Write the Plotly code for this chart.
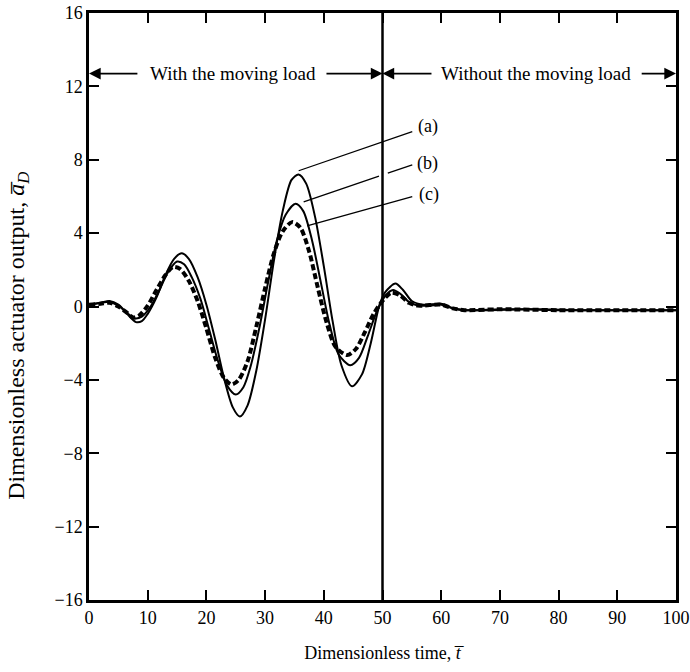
import plotly.graph_objects as go

# ---- data ----
t_a = [0, 2, 3.5, 5, 6.5, 8, 9, 10, 11.5, 13, 14.5, 15.8, 17, 18.5, 20, 21.5, 23, 24.5, 25.7, 27,
       28.5, 30, 31.5, 33, 34.5, 35.7, 37, 38.5, 40, 41.5, 43, 44.8, 46.5, 48, 49.5, 50.5, 52.2,
       53.5, 55, 57, 60, 62, 64, 66, 70, 75, 80, 90, 100]
y_a = [0.1, 0.2, 0.3, 0.1, -0.4, -0.85, -0.8, -0.4, 0.5, 1.7, 2.6, 2.9, 2.6, 1.6, 0.1, -1.8, -3.9, -5.5, -6.0, -5.4,
       -3.5, -0.7, 2.5, 5.2, 6.9, 7.2, 6.7, 4.9, 2.2, -0.8, -3.2, -4.35, -3.7, -2.0, 0.1, 0.8, 1.25,
       0.9, 0.3, 0.1, 0.15, -0.1, -0.2, -0.2, -0.15, -0.15, -0.2, -0.2, -0.2]

t_b = [0, 2, 3.5, 5, 6.5, 7.8, 9, 10.5, 12, 13.5, 15, 16.2, 17.5, 19, 20.5, 22, 23.5, 25, 26.3, 27.5,
       29, 30.5, 32, 33.5, 35.2, 36.5, 38, 39.5, 41, 42.5, 44.5, 46, 47.5, 49, 50.5, 51.8, 53,
       54.5, 56, 58, 60, 62, 64, 68, 75, 85, 100]
y_b = [0.1, 0.2, 0.25, 0.05, -0.35, -0.65, -0.55, 0.0, 0.9, 1.9, 2.45, 2.3, 1.6, 0.4, -1.3, -3.0, -4.3, -4.8, -4.4, -3.3,
       -1.2, 1.3, 3.6, 5.0, 5.6, 5.2, 3.6, 1.3, -1.0, -2.6, -3.2, -2.8, -1.6, -0.3, 0.6, 0.9, 0.7,
       0.25, 0.05, 0.05, 0.1, -0.1, -0.2, -0.2, -0.15, -0.2, -0.2]

t_c = [0, 2, 3.5, 5, 6.5, 7.5, 8.5, 10, 11.5, 13, 14.3, 15.5, 17, 18.5, 20, 21.5, 23, 24.3, 25.5, 27,
       28.5, 30, 31.5, 33, 34.6, 36, 37.5, 39, 40.5, 42, 44, 45.5, 47, 48.5, 50, 51.5, 53,
       54.5, 56, 60, 62, 64, 70, 80, 100]
y_c = [0.1, 0.15, 0.2, 0.0, -0.35, -0.6, -0.5, 0.05, 0.9, 1.7, 2.15, 2.05, 1.4, 0.3, -1.2, -2.8, -3.9, -4.25, -4.0, -3.0,
       -1.1, 1.0, 2.9, 4.1, 4.6, 4.3, 3.0, 1.0, -0.9, -2.2, -2.65, -2.3, -1.4, -0.4, 0.3, 0.75, 0.6,
       0.2, 0.05, 0.1, -0.1, -0.2, -0.15, -0.2, -0.2]

x_ticks = [0, 10, 20, 30, 40, 50, 60, 70, 80, 90, 100]
y_ticks = [-16, -12, -8, -4, 0, 4, 8, 12, 16]

labels = ["(a)", "(b)", "(c)"]
label_pos = [(57.7, 9.8), (57.7, 7.82), (58.0, 6.12)]
leader_start = [(35.72, 7.40), (36.57, 5.71), (37.15, 4.39)]
leader_end = [(55.07, 9.53), (55.07, 7.72), (55.07, 5.99)]
boundary_t = 50
region_texts = ["With the moving load", "Without the moving load"]
region_y = 12.7
y_title = "Dimensionless actuator output, <i>a̅</i><sub><i>D</i></sub>"
x_title = "Dimensionless time, <i>t̅</i>"

FONT = "Liberation Serif"

fig = go.Figure()
fig.add_trace(go.Scatter(x=t_a, y=y_a, mode="lines", line=dict(color="black", width=2, shape="spline", smoothing=0.8)))
fig.add_trace(go.Scatter(x=t_b, y=y_b, mode="lines", line=dict(color="black", width=2, shape="spline", smoothing=0.8)))
fig.add_trace(go.Scatter(x=t_c, y=y_c, mode="lines",
                         line=dict(color="black", width=4, dash="6px,3px", shape="spline", smoothing=0.8)))

# boundary line
fig.add_shape(type="line", x0=boundary_t, x1=boundary_t, y0=-16, y1=16, xref="x", yref="y",
              line=dict(color="black", width=2.5))

# leader lines
for i, (s, e) in enumerate(zip(leader_start, leader_end)):
    if i == 1:
        # broken around the boundary line
        slope = (e[1] - s[1]) / (e[0] - s[0])
        g0, g1 = 49.4, 50.9
        fig.add_shape(type="line", x0=s[0], y0=s[1], x1=g0, y1=s[1] + slope * (g0 - s[0]),
                      line=dict(color="black", width=1.3))
        fig.add_shape(type="line", x0=g1, y0=s[1] + slope * (g1 - s[0]), x1=e[0], y1=e[1],
                      line=dict(color="black", width=1.3))
    else:
        fig.add_shape(type="line", x0=s[0], y0=s[1], x1=e[0], y1=e[1],
                      line=dict(color="black", width=1.3))

for lab, (lx, ly) in zip(labels, label_pos):
    fig.add_annotation(x=lx, y=ly, text=lab, showarrow=False, font=dict(family=FONT, size=18, color="black"))

# region arrows
arrow_specs = [(0, 8.5), (50, 40.2), (50, 58.6), (100, 93.9)]
for tip, tail in arrow_specs:
    fig.add_annotation(x=tip, y=region_y, ax=tail, ay=region_y, axref="x", ayref="y", xref="x", yref="y",
                       text="", showarrow=True, arrowhead=2, arrowsize=1.3, arrowwidth=1.8, arrowcolor="black",
                       standoff=0)
fig.add_annotation(x=24.6, y=region_y, text=region_texts[0], showarrow=False,
                   font=dict(family=FONT, size=19, color="black"))
fig.add_annotation(x=76.2, y=region_y, text=region_texts[1], showarrow=False,
                   font=dict(family=FONT, size=19, color="black"))

# y-axis title (placed slightly below centre, as in the original)
fig.add_annotation(xref="paper", yref="paper", x=-0.121, y=0.45, xanchor="center", yanchor="middle",
                   text=y_title, textangle=-90, showarrow=False,
                   font=dict(family=FONT, size=24, color="black"))

axis_common = dict(showline=True, mirror="allticks", linecolor="black", linewidth=2.5, ticks="inside",
                   ticklen=10, tickwidth=1.5, tickcolor="black", showgrid=False, zeroline=False,
                   automargin=False, tickfont=dict(family=FONT, size=18, color="black"))
fig.update_xaxes(range=[0, 100], tickvals=x_ticks, ticktext=[str(v) for v in x_ticks],
                 title=dict(text=x_title, font=dict(family=FONT, size=18, color="black"), standoff=20),
                 **axis_common)
fig.update_yaxes(range=[-16, 16], tickvals=y_ticks,
                 ticktext=[("\u2212" + str(-v)) if v < 0 else str(v) for v in y_ticks],
                 **axis_common)

fig.update_layout(width=690, height=672, margin=dict(l=89, r=14, t=13, b=72),
                  plot_bgcolor="white", paper_bgcolor="white", showlegend=False)

fig.write_html("out.html")
